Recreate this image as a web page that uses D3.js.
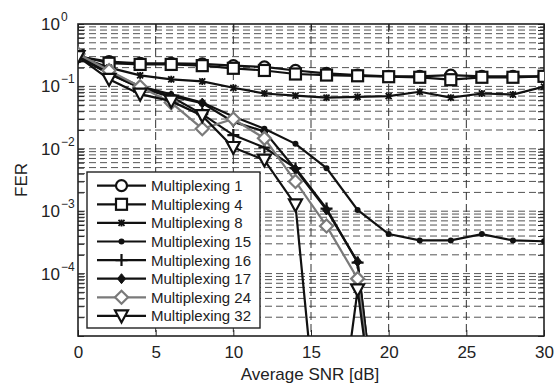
<!DOCTYPE html>
<html>
<head>
<meta charset="utf-8">
<script src="https://cdn.jsdelivr.net/npm/d3@7"></script>
<style>
  body { margin: 0; background: #fff; }
  text { font-family: "Liberation Sans", Arial, sans-serif; fill: #222; }
</style>
</head>
<body>
<div id="chart"></div>
<script>
// FER vs average SNR for several multiplexing orders

const snr = [0, 2, 4, 6, 8, 10, 12, 14, 16, 18, 20, 22, 24, 26, 28, 30];
const zero = 1e-8; // error-free points, fall off the log axis

const mux1  = [0.30, 0.25, 0.235, 0.235, 0.23, 0.215, 0.205, 0.18, 0.162, 0.152, 0.145, 0.145, 0.152, 0.145, 0.145, 0.145];
const mux4  = [0.31, 0.235, 0.225, 0.225, 0.215, 0.195, 0.18, 0.158, 0.152, 0.148, 0.143, 0.14, 0.128, 0.14, 0.14, 0.145];
const mux8  = [0.30, 0.20, 0.15, 0.13, 0.12, 0.095, 0.077, 0.071, 0.066, 0.068, 0.070, 0.082, 0.066, 0.077, 0.074, 0.099];
const mux15 = [0.30, 0.17, 0.10, 0.075, 0.055, 0.033, 0.021, 0.012, 0.0049, 0.00105, 4.3e-4, 3.4e-4, 3.4e-4, 4.3e-4, 3.4e-4, 3.3e-4];
const mux16 = [0.30, 0.16, 0.095, 0.068, 0.036, 0.0166, 0.0105, 0.0049, 0.0011, 1.5e-4, zero, zero, zero, zero, zero, zero];
const mux17 = [0.30, 0.16, 0.095, 0.07, 0.054, 0.027, 0.019, 0.0047, 0.00105, 1.55e-4, zero, zero, zero, zero, zero, zero];
const mux24 = [0.33, 0.18, 0.099, 0.055, 0.021, 0.030, 0.0147, 0.003, 5.8e-4, 8.3e-5, zero, zero, zero, zero, zero, zero];
const mux32 = [0.30, 0.13, 0.075, 0.058, 0.034, 0.0105, 0.0066, 0.00126, zero, 5.5e-5, zero, zero, zero, zero, zero, zero];

const seriesNames = ["Multiplexing 1", "Multiplexing 4", "Multiplexing 8", "Multiplexing 15",
                     "Multiplexing 16", "Multiplexing 17", "Multiplexing 24", "Multiplexing 32"];
const seriesValues = [mux1, mux4, mux8, mux15, mux16, mux17, mux24, mux32];
const seriesMarkers = ["circle", "square", "cross", "dot", "plus", "fdiamond", "diamond", "tri"];
const seriesColors = ["#111", "#111", "#111", "#111", "#111", "#111", "#7a7a7a", "#111"];

const xTicks = [0, 5, 10, 15, 20, 25, 30];
const yTicks = [1, 1e-1, 1e-2, 1e-3, 1e-4];
const yExps = ["0", "\u22121", "\u22122", "\u22123", "\u22124"];

// layout
const width = 560;
const height = 385;
const margin = { left: 78, top: 24, right: 16, bottom: 49 };
const plotW = width - margin.left - margin.right;
const plotH = height - margin.top - margin.bottom;

const svg = d3.select("#chart")
    .append("svg")
    .attr("width", width)
    .attr("height", height);

const x = d3.scaleLinear().domain([0, 30]).range([margin.left, margin.left + plotW]);
const y = d3.scaleLog().domain([1e-5, 1]).range([margin.top + plotH, margin.top]);

// grid lines
const minorVals = [];
for (let e = -5; e < 0; e++) {
    for (let m = 1; m <= 9; m++) minorVals.push(m * Math.pow(10, e));
}
minorVals.push(1);

const grid = svg.append("g");
grid.selectAll("line.h")
    .data(minorVals.filter(v => v > 1e-5 && v < 1))
    .enter().append("line")
    .attr("x1", margin.left).attr("x2", margin.left + plotW)
    .attr("y1", d => y(d)).attr("y2", d => y(d))
    .attr("stroke", "#555")
    .attr("stroke-width", 1)
    .attr("stroke-dasharray", "7,4");

grid.selectAll("line.v")
    .data(xTicks.slice(1, -1))
    .enter().append("line")
    .attr("x1", d => x(d)).attr("x2", d => x(d))
    .attr("y1", margin.top).attr("y2", margin.top + plotH)
    .attr("stroke", "#333")
    .attr("stroke-width", 1)
    .attr("stroke-dasharray", "8,4");

// axes with inward ticks
const axisG = svg.append("g");
const bottomAxis = d3.axisBottom(x).tickValues(xTicks).tickSize(-6).tickPadding(10).tickFormat(d3.format("d"));
const topAxis = d3.axisTop(x).tickValues(xTicks).tickSize(-6).tickFormat("");
const leftAxis = d3.axisLeft(y).tickValues(minorVals).tickSize(-6).tickFormat("");
const rightAxis = d3.axisRight(y).tickValues(minorVals).tickSize(-6).tickFormat("");

axisG.append("g").attr("transform", `translate(0,${margin.top + plotH})`).call(bottomAxis)
    .call(g => g.selectAll("text").attr("font-size", 17).attr("fill", "#222")
        .style("font-family", "'Liberation Sans', Arial, sans-serif"));
axisG.append("g").attr("transform", `translate(0,${margin.top})`).call(topAxis);
axisG.append("g").attr("transform", `translate(${margin.left},0)`).call(leftAxis);
axisG.append("g").attr("transform", `translate(${margin.left + plotW},0)`).call(rightAxis);
axisG.selectAll(".domain").remove();
axisG.selectAll(".tick line").attr("stroke", "#222").attr("stroke-width", 1);

svg.append("rect")
    .attr("x", margin.left).attr("y", margin.top)
    .attr("width", plotW).attr("height", plotH)
    .attr("fill", "none").attr("stroke", "#222").attr("stroke-width", 1.6);

// y tick labels as 10^n
const yLab = svg.append("g").selectAll("text")
    .data(yTicks)
    .enter().append("text")
    .attr("x", 41)
    .attr("y", d => y(d) + 6)
    .attr("font-size", 17);
yLab.append("tspan").text("10");
yLab.append("tspan")
    .attr("font-size", 12)
    .attr("dx", 1)
    .attr("dy", -9)
    .text((d, i) => yExps[i]);

// axis titles
svg.append("text")
    .attr("x", margin.left + plotW / 2 - 1)
    .attr("y", 380)
    .attr("text-anchor", "middle")
    .attr("font-size", 17)
    .text("Average SNR [dB]");

svg.append("text")
    .attr("transform", `translate(27,${margin.top + plotH / 2}) rotate(-90)`)
    .attr("text-anchor", "middle")
    .attr("font-size", 17)
    .text("FER");

// markers
function drawMarker(g, type, color) {
    const sw = 2.2;
    if (type === "circle") {
        g.append("circle").attr("r", 5.5).attr("fill", "#fff").attr("stroke", color).attr("stroke-width", sw);
    } else if (type === "square") {
        g.append("rect").attr("x", -5.5).attr("y", -5.5).attr("width", 11).attr("height", 11)
            .attr("fill", "#fff").attr("stroke", color).attr("stroke-width", sw);
    } else if (type === "cross") {
        g.append("path").attr("d", "M-3,-3L3,3M-3,3L3,-3M0,-3.5L0,3.5")
            .attr("stroke", color).attr("stroke-width", 1.8);
    } else if (type === "dot") {
        g.append("circle").attr("r", 3).attr("fill", color);
    } else if (type === "plus") {
        g.append("path").attr("d", "M-6,0L6,0M0,-6L0,6").attr("stroke", color).attr("stroke-width", sw);
    } else if (type === "fdiamond") {
        g.append("path").attr("d", "M0,-5L4,0L0,5L-4,0Z").attr("fill", color).attr("stroke", color).attr("stroke-width", 1);
    } else if (type === "diamond") {
        g.append("path").attr("d", "M0,-6.5L6.5,0L0,6.5L-6.5,0Z").attr("fill", "#fff")
            .attr("stroke", color).attr("stroke-width", sw);
    } else if (type === "tri") {
        g.append("path").attr("d", "M-6.5,-5.5L6.5,-5.5L0,6.5Z").attr("fill", "#fff")
            .attr("stroke", color).attr("stroke-width", sw);
    }
}

svg.append("clipPath").attr("id", "plotClip")
    .append("rect")
    .attr("x", margin.left).attr("y", margin.top)
    .attr("width", plotW).attr("height", plotH);

const plotG = svg.append("g").attr("clip-path", "url(#plotClip)");

const line = d3.line()
    .x((d, i) => x(snr[i]))
    .y(d => y(d));

seriesValues.forEach((vals, s) => {
    const g = plotG.append("g");
    g.append("path")
        .datum(vals)
        .attr("d", line)
        .attr("fill", "none")
        .attr("stroke", seriesColors[s])
        .attr("stroke-width", 2.2);
    vals.forEach((v, i) => {
        if (v <= 1e-5) return;
        const m = g.append("g").attr("transform", `translate(${x(snr[i])},${y(v)})`);
        drawMarker(m, seriesMarkers[s], seriesColors[s]);
    });
});

// legend
const legX = 87, legY = 172, legW = 173, legH = 156, rowH = 18.6;
const legend = svg.append("g");
legend.append("rect")
    .attr("x", legX).attr("y", legY)
    .attr("width", legW).attr("height", legH)
    .attr("fill", "#fff").attr("stroke", "#222").attr("stroke-width", 1.4);

seriesNames.forEach((name, s) => {
    const cy = legY + 13.7 + s * rowH;
    legend.append("line")
        .attr("x1", legX + 10).attr("x2", legX + 59)
        .attr("y1", cy).attr("y2", cy)
        .attr("stroke", seriesColors[s]).attr("stroke-width", 2.2);
    const m = legend.append("g").attr("transform", `translate(${legX + 34.5},${cy})`);
    drawMarker(m, seriesMarkers[s], seriesColors[s]);
    legend.append("text")
        .attr("x", legX + 64)
        .attr("y", cy + 5.5)
        .attr("font-size", 15)
        .text(name);
});
</script>
</body>
</html>
